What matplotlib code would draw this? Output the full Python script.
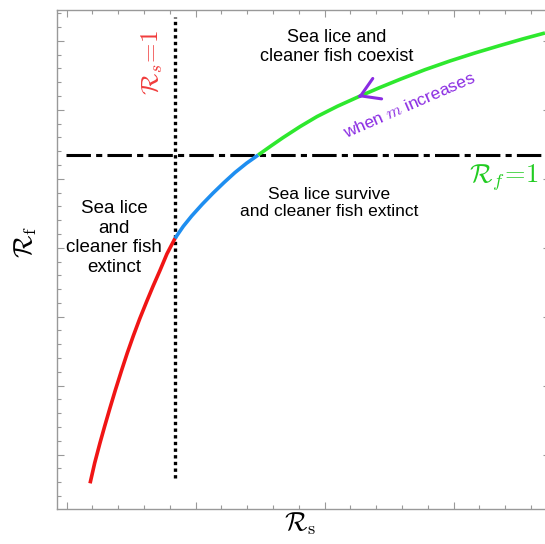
import numpy as np
import matplotlib.pyplot as plt
from matplotlib.ticker import MultipleLocator

plt.rcParams['font.family'] = ['Liberation Sans', 'DejaVu Sans']
plt.rcParams['mathtext.fontset'] = 'cm'

# boundary curve R_f vs R_s as m varies
rs = [0.181, 0.217, 0.258, 0.294, 0.336, 0.377, 0.426, 0.469, 0.516,
      0.566, 0.620, 0.669, 0.723, 0.777, 0.840,
      0.904, 0.969, 1.051, 1.134, 1.220, 1.305, 1.395, 1.485,
      1.580, 1.677, 1.809, 1.940, 2.099, 2.258, 2.421, 2.584,
      2.778, 2.971, 3.165, 3.359, 3.533, 3.708]
rf = [-0.415, -0.120, 0.170, 0.410, 0.680, 0.935, 1.225, 1.470, 1.720,
      1.970, 2.220, 2.440, 2.670, 2.910, 3.136,
      3.310, 3.460, 3.630, 3.790, 3.945, 4.090, 4.225, 4.344,
      4.470, 4.595, 4.755, 4.900, 5.050, 5.184, 5.316, 5.440,
      5.580, 5.706, 5.822, 5.930, 6.024, 6.112]
rs_one = 0.840   # where R_s = 1
rf_one = 4.344   # where R_f = 1
arrow_at = 28    # curve point carrying the "m increases" arrow

rs = np.array(rs)
rf = np.array(rf)

fig = plt.figure(figsize=(5.45, 5.44), dpi=100)
ax = fig.add_axes([56.7 / 545, 35 / 544, 493.3 / 545, 499 / 544])
ax.set_xlim(-0.0775, 3.747)
ax.set_ylim(-0.787, 6.445)

# three pieces of the curve
red = rs <= rs_one
blue = (rs >= rs_one) & (rf <= rf_one)
green = rf >= rf_one
ax.plot(rs[red], rf[red], color='#f01515', lw=2.6, solid_capstyle='butt',
        solid_joinstyle='round', zorder=3)
ax.plot(rs[blue], rf[blue], color='#1e8ef0', lw=2.6, solid_capstyle='butt',
        solid_joinstyle='round', zorder=3)
ax.plot(rs[green], rf[green], color='#2ee82e', lw=2.6, solid_capstyle='butt',
        solid_joinstyle='round', zorder=3)

# threshold lines
ax.axvline(rs_one, ymin=0.062, ymax=0.986, color='black', lw=2.4,
           linestyle=(0, (1, 1)), dash_capstyle='butt', zorder=2)
ax.axhline(rf_one, xmin=0.019, xmax=1, color='black', lw=2.2,
           linestyle=(0, (8, 1.7, 2, 1.7)), dash_capstyle='butt', zorder=2)

# arrow showing direction of increasing m
tip = np.array([rs[arrow_at], rf[arrow_at]])
nxt = np.array([rs[arrow_at + 1], rf[arrow_at + 1]])
ax.annotate('', xy=tip, xytext=tip + 0.08 * (nxt - tip),
            arrowprops=dict(arrowstyle='->,head_length=0.65,head_width=0.4',
                            color='#8a2be2', lw=2.2, shrinkA=0, shrinkB=0,
                            mutation_scale=20), zorder=4)
ax.text(2.654, 5.068, r'when $m$ increases', color='#8a2be2', fontsize=12.5,
        rotation=23.5, ha='center', va='center')

# region labels
ax.text(2.095, 5.909, 'Sea lice and\ncleaner fish coexist', fontsize=13,
        ha='center', va='center')
ax.text(0.367, 3.141, 'Sea lice\nand\ncleaner fish\nextinct', fontsize=13.5,
        ha='center', va='center')
ax.text(2.035, 3.648, 'Sea lice survive\nand cleaner fish extinct', fontsize=12.5,
        ha='center', va='center')

ax.text(0.661, 5.691, r'$\mathcal{R}_s\!=\!1$', color='#f03c3c', fontsize=18,
        rotation=90, ha='center', va='center')
ax.text(3.39, 3.938, r'$\mathcal{R}_f\!=\!1$', color='#22cc22', fontsize=19,
        ha='center', va='baseline')

ax.set_xlabel(r'$\mathcal{R}_\mathrm{s}$', fontsize=19)
ax.set_ylabel(r'$\mathcal{R}_\mathrm{f}$', fontsize=19, va='center')
ax.xaxis.set_label_coords(0.493, -0.004)
ax.yaxis.set_label_coords(-0.062, 0.535)

# frame and unlabelled ticks
for side in ax.spines.values():
    side.set_color('#999999')
    side.set_linewidth(1.0)
ax.xaxis.set_major_locator(MultipleLocator(1))
ax.xaxis.set_minor_locator(MultipleLocator(0.2))
ax.yaxis.set_major_locator(MultipleLocator(1))
ax.yaxis.set_minor_locator(MultipleLocator(0.2))
ax.tick_params(which='both', direction='in', top=True, right=True,
               colors='#999999', labelbottom=False, labelleft=False)
ax.tick_params(which='major', length=5, width=0.8)
ax.tick_params(which='minor', length=3, width=0.8)

fig.savefig('out.png', dpi=100)
